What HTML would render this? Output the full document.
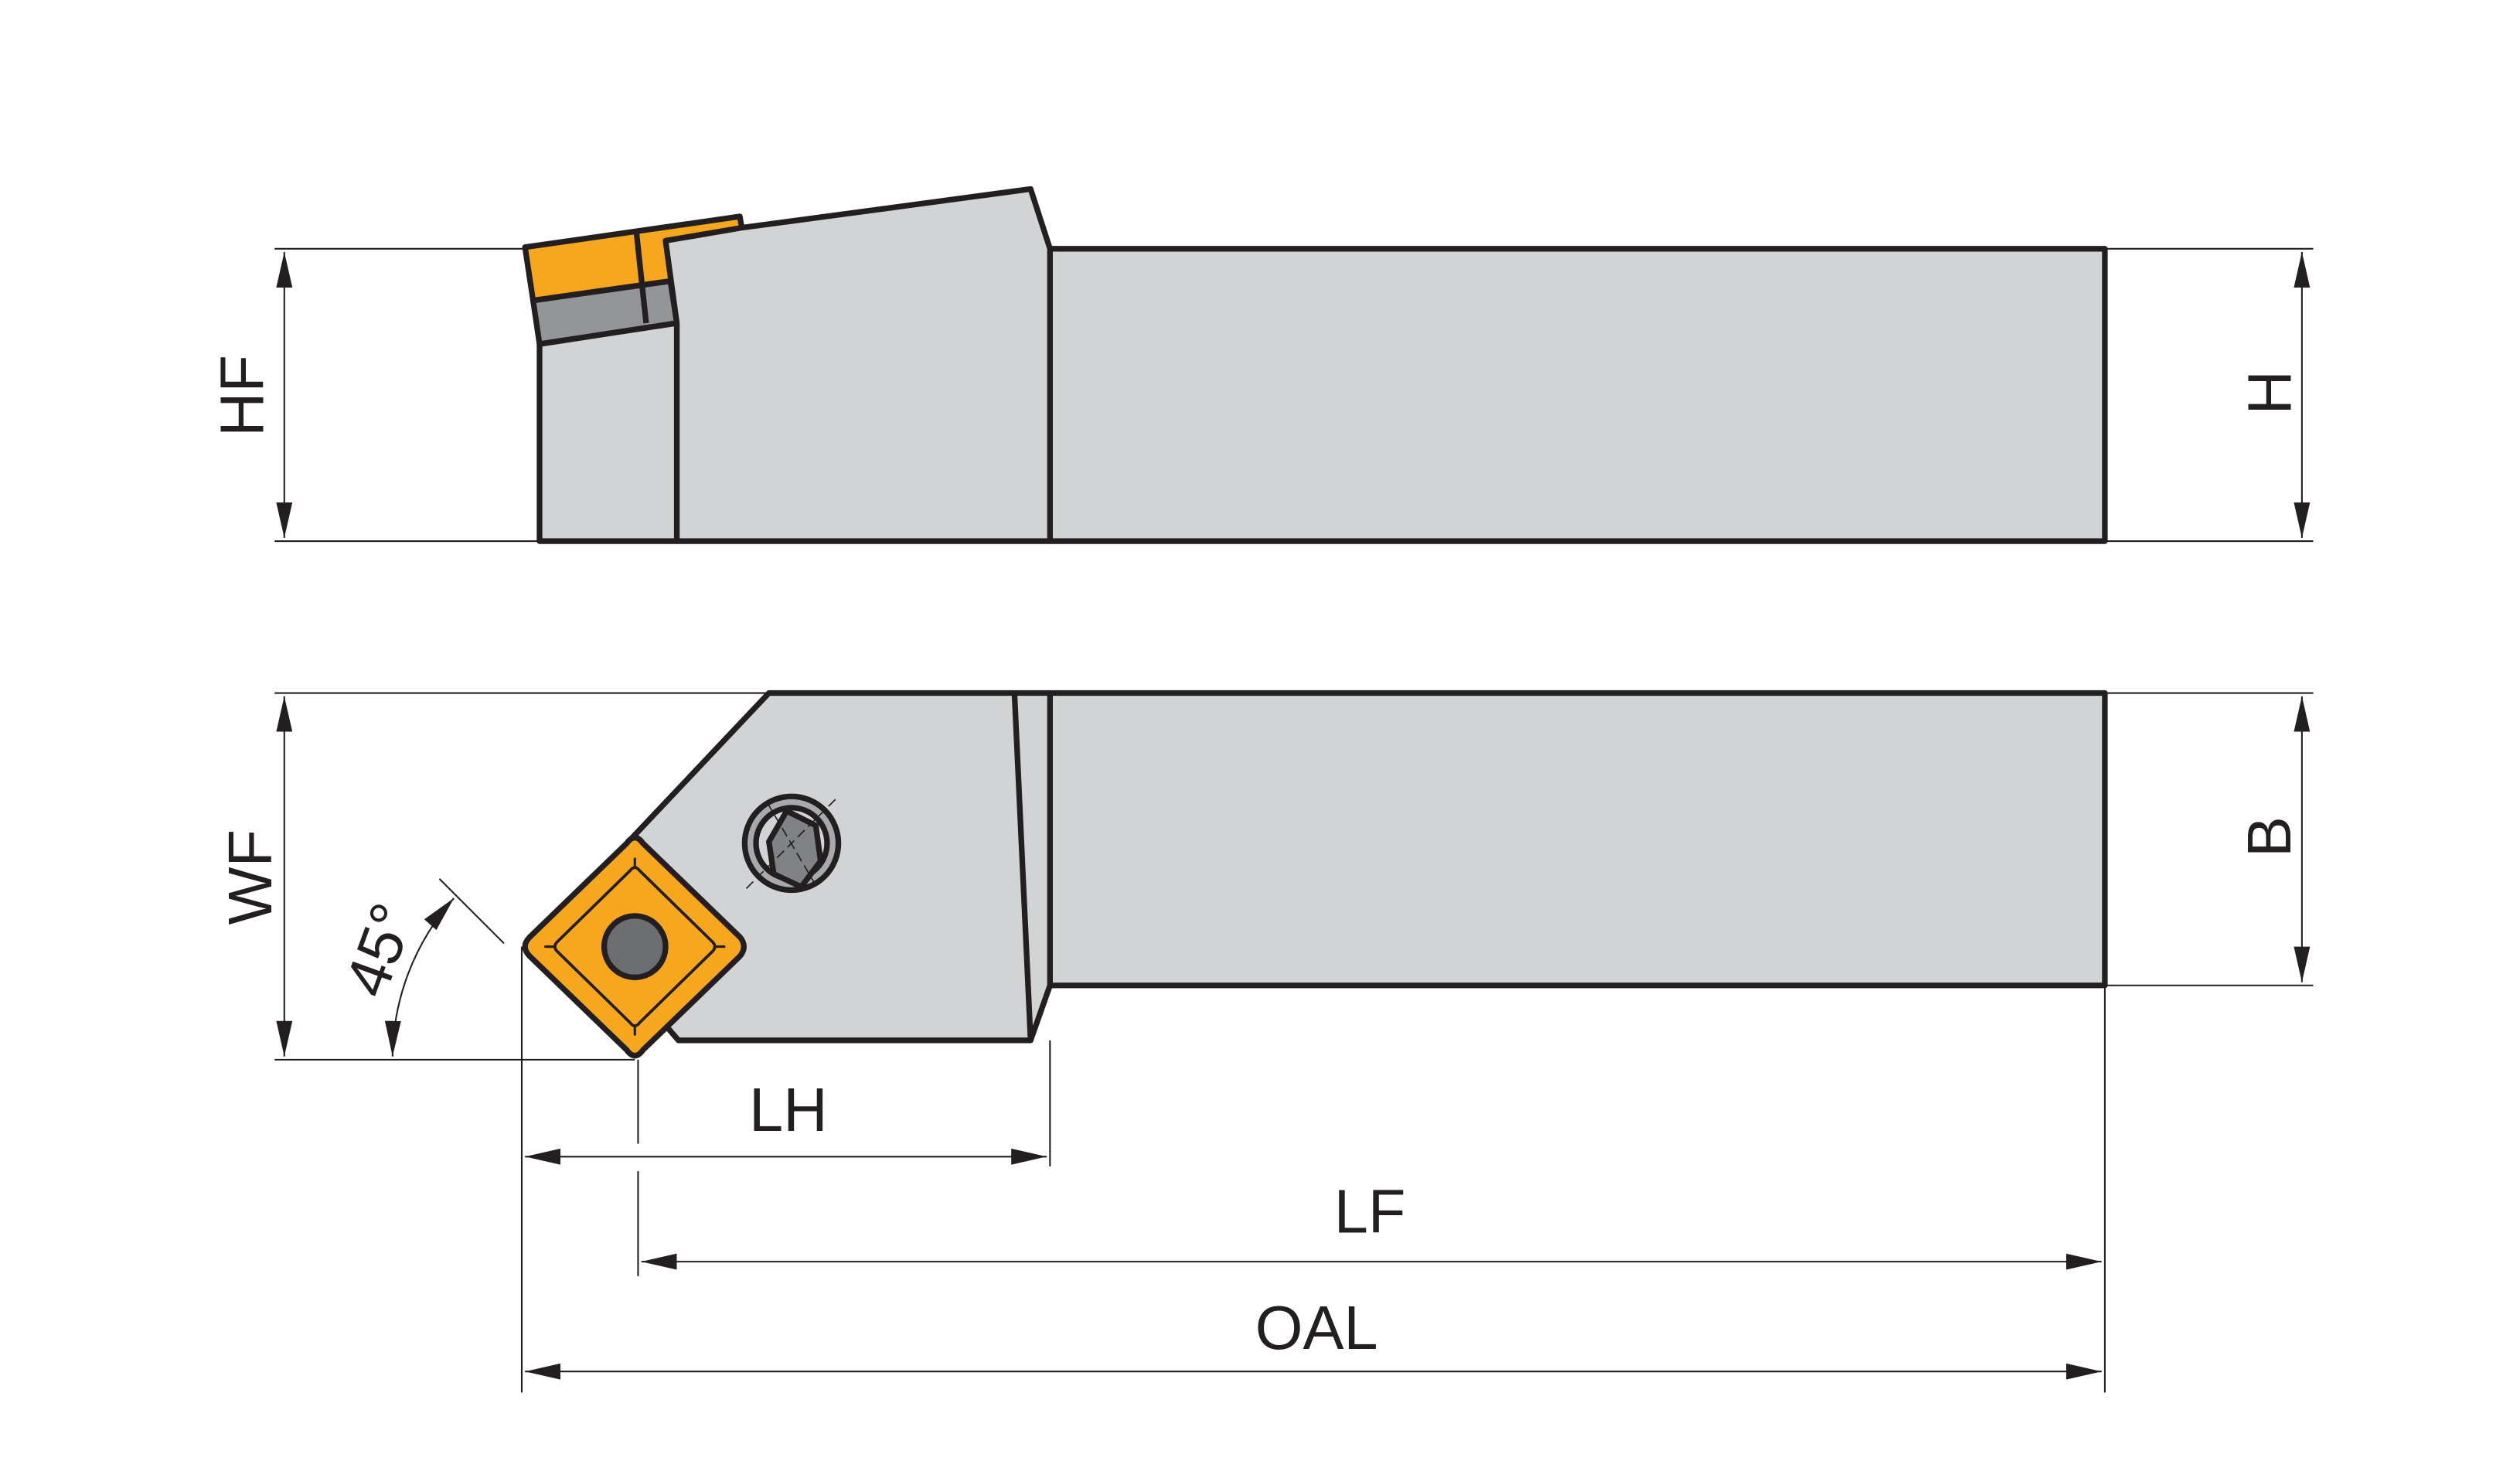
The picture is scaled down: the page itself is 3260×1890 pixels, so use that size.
<!DOCTYPE html>
<html><head><meta charset="utf-8"><style>html,body{margin:0;padding:0;background:#fff}svg{display:block}</style></head>
<body>
<svg width="3260" height="1890" viewBox="0 0 1560 904.4" xmlns="http://www.w3.org/2000/svg" font-family="Liberation Sans, sans-serif">
<defs>
<marker id="a" viewBox="0 0 22 10" refX="22" refY="5" markerWidth="22" markerHeight="10" markerUnits="userSpaceOnUse" orient="auto-start-reverse"><path d="M0,0 L22,5 L0,10 Z" fill="#231f20"/></marker>
</defs>
<g stroke="#231f20" stroke-width="1" fill="none">
<!-- top view extension lines -->
<line x1="170" y1="154" x2="325" y2="154"/><line x1="170" y1="335" x2="334" y2="335"/>
<line x1="1303" y1="154" x2="1432" y2="154"/><line x1="1303" y1="335" x2="1432" y2="335"/>
<line x1="176" y1="156" x2="176" y2="333" marker-start="url(#a)" marker-end="url(#a)"/>
<line x1="1425" y1="156" x2="1425" y2="333" marker-start="url(#a)" marker-end="url(#a)"/>
<!-- bottom view ext -->
<line x1="170" y1="429" x2="476" y2="429"/><line x1="170" y1="656" x2="393" y2="656"/>
<line x1="1303" y1="429" x2="1432" y2="429"/><line x1="1303" y1="610" x2="1432" y2="610"/>
<line x1="176" y1="431" x2="176" y2="654" marker-start="url(#a)" marker-end="url(#a)"/>
<line x1="1425" y1="431" x2="1425" y2="608" marker-start="url(#a)" marker-end="url(#a)"/>
<line x1="323" y1="586" x2="323" y2="862"/>
<line x1="395" y1="656" x2="395" y2="708"/><line x1="395" y1="725" x2="395" y2="790"/>
<line x1="650" y1="644" x2="650" y2="722"/>
<line x1="1303" y1="610" x2="1303" y2="862"/>
<line x1="325" y1="716" x2="648" y2="716" marker-start="url(#a)" marker-end="url(#a)"/>
<line x1="397" y1="781" x2="1301" y2="781" marker-start="url(#a)" marker-end="url(#a)"/>
<line x1="325" y1="849" x2="1301" y2="849" marker-start="url(#a)" marker-end="url(#a)"/>
<!-- 45 deg -->
<line x1="272" y1="544" x2="312" y2="584"/>
<path d="M243,654 A150,150 0 0 1 281,556" marker-start="url(#a)" marker-end="url(#a)"/>
</g>
<g fill="#231f20" font-size="38">
<text x="150" y="245" text-anchor="middle" transform="rotate(-90 150 245)" dy="13">HF</text>
<text x="1405" y="243" text-anchor="middle" transform="rotate(-90 1405 243)" dy="13">H</text>
<text x="155" y="543" text-anchor="middle" transform="rotate(-90 155 543)" dy="13">WF</text>
<text x="1405" y="518" text-anchor="middle" transform="rotate(-90 1405 518)" dy="13">B</text>
<text x="235" y="588" text-anchor="middle" transform="rotate(-70 235 588)" dy="13">45°</text>
<text x="488" y="700" text-anchor="middle">LH</text>
<text x="848" y="763" text-anchor="middle">LF</text>
<text x="815" y="835" text-anchor="middle">OAL</text>
</g>
<!-- TOP VIEW -->
<g stroke="#231f20" stroke-width="3.5" stroke-linejoin="round">
<polygon points="325,153 458,134 460,146 415,174 330,186" fill="#f7a71d"/>
<polygon points="330,186 415,174 419,200 334,213" fill="#939598"/>
<polygon points="334,213 419,200 419,335 334,335" fill="#d1d3d4"/>
<line x1="394" y1="144" x2="400" y2="200"/>
<rect x="650" y="154" width="653" height="181" fill="#d1d3d4"/>
<polygon points="412,149 459,141 638,117 650,154 650,335 419,335 419,200" fill="#d1d3d4"/>
</g>
<!-- BOTTOM VIEW -->
<g stroke="#231f20" stroke-width="3.5" stroke-linejoin="round">
<rect x="650" y="429" width="653" height="181" fill="#d1d3d4"/>
<polygon points="476,429 650,429 650,610 638,644 420,644 395,615 390,520" fill="#d1d3d4"/>
<line x1="628" y1="429" x2="638" y2="644"/>
<!-- insert -->
<path d="M388,522 Q393,515 398,522 L458,580 Q463,586 458,592 L398,650 Q393,657 388,650 L328,592 Q322,586 328,580 Z" fill="#f7a71d"/>
<path d="M390,539 Q393,535 396,539 L441,583 Q444,586 441,589 L396,633 Q393,637 390,633 L345,589 Q342,586 345,583 Z" fill="none" stroke-width="1.8"/>
<g stroke-width="1.5"><line x1="393" y1="531" x2="393" y2="537"/><line x1="393" y1="635" x2="393" y2="641"/><line x1="337" y1="586" x2="343" y2="586"/><line x1="443" y1="586" x2="449" y2="586"/></g>
<ellipse cx="393" cy="586" rx="19" ry="19" fill="#6d6e71"/>
<!-- screw -->
<circle cx="490" cy="522" r="29" fill="#a7a9ac"/>
<circle cx="490" cy="522" r="22" fill="#d1d3d4"/>
<polygon points="487,502 505,511 508,533 496,549 479,541 476,521" fill="#808285"/>
</g>
<g stroke="#231f20" stroke-width="0.8" stroke-dasharray="6,3">
<line x1="462" y1="550" x2="518" y2="494"/><line x1="475" y1="497" x2="505" y2="548"/>
</g>
</svg>
</body></html>
